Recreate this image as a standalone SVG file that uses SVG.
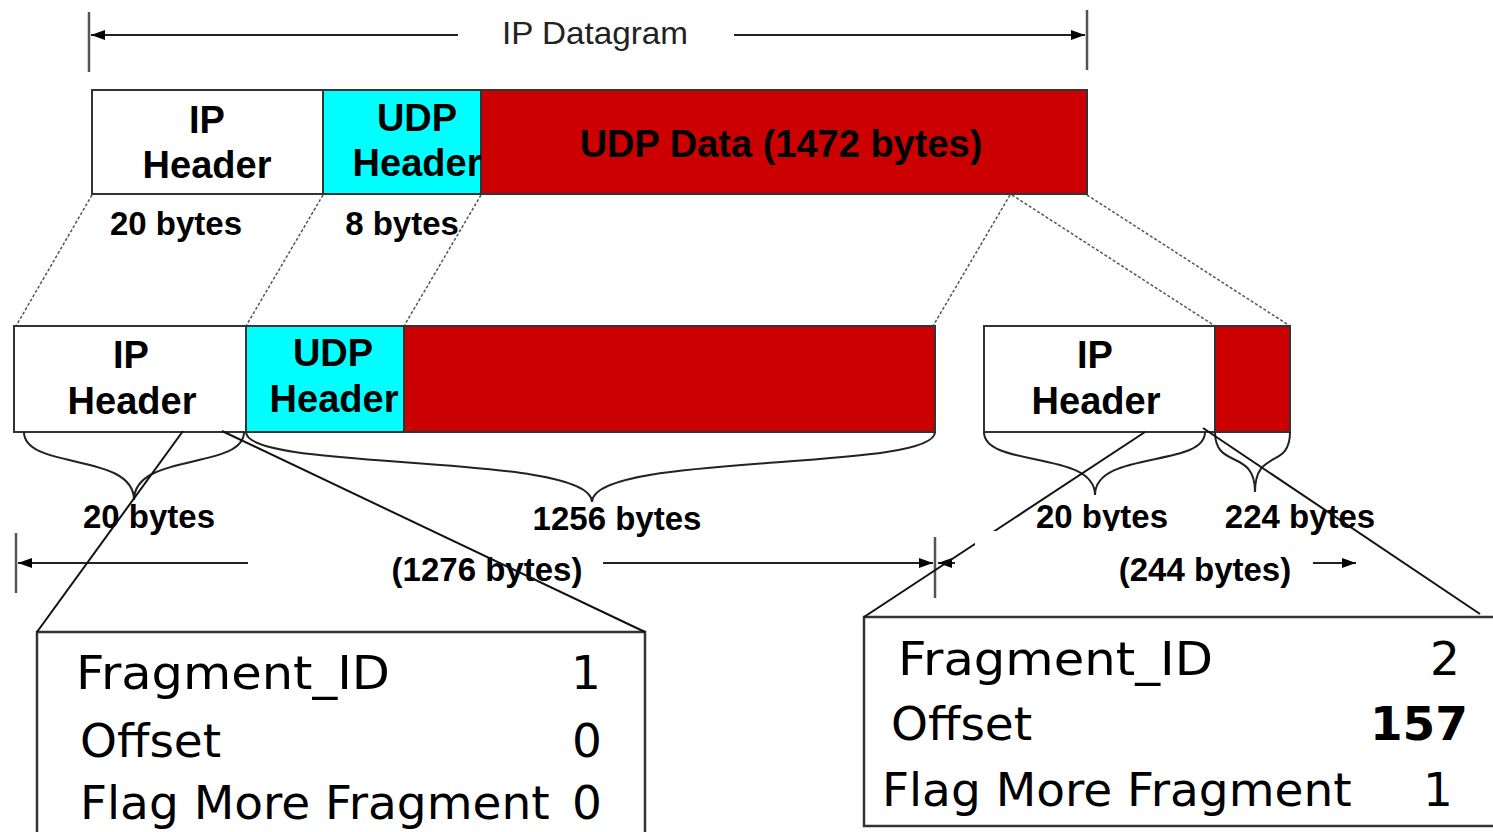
<svg xmlns="http://www.w3.org/2000/svg" width="1493" height="832" viewBox="0 0 1493 832">
  <style>
    .bar { stroke: #333; stroke-width: 2; }
    .ip { fill: #ffffff; }
    .udp { fill: #00ffff; }
    .data { fill: #cc0000; }
    .lbl { font-family: "Liberation Sans", Arial, sans-serif; font-weight: bold; fill: #000; text-anchor: middle; }
    .hdr { font-size: 38px; }
    .sz { font-size: 33px; }
    .dim { stroke: #222; stroke-width: 2; fill: none; }
    .tick { stroke: #555; stroke-width: 2.5; }
    .dot { stroke: #555; stroke-width: 1.5; stroke-dasharray: 3 2; fill: none; }
    .brace { stroke: #222; stroke-width: 2; fill: none; }
    .call { stroke: #111; stroke-width: 2; fill: none; }
    .box { fill: #fff; stroke: #333; stroke-width: 2.5; }
    .fld { font-family: "DejaVu Sans", Verdana, sans-serif; font-size: 47px; fill: #000; }
  </style>
  <defs>
    <marker id="arr" viewBox="0 0 14 10" refX="14" refY="5" markerWidth="14" markerHeight="10" markerUnits="userSpaceOnUse" orient="auto">
      <path d="M0,0 L14,5 L0,10 Z" fill="#000"/>
    </marker>
  </defs>

  <!-- overall datagram dimension -->
  <g id="datagram-dimension">
    <line class="tick" x1="89" y1="12" x2="89" y2="72"/>
    <line class="tick" x1="1087" y1="10" x2="1087" y2="70"/>
    <line class="dim" x1="458" y1="35" x2="91" y2="35" marker-end="url(#arr)"/>
    <line class="dim" x1="734" y1="35" x2="1085" y2="35" marker-end="url(#arr)"/>
    <text x="595" y="44" font-family="Liberation Sans, Arial, sans-serif" font-size="32" text-anchor="middle" textLength="186" lengthAdjust="spacingAndGlyphs" fill="#222">IP Datagram</text>
  </g>

  <!-- original datagram -->
  <g id="datagram">
    <rect class="bar ip" x="92" y="90" width="231" height="104"/>
    <rect class="bar udp" x="323" y="90" width="158" height="104"/>
    <rect class="bar data" x="481" y="90" width="606" height="104"/>
    <text class="lbl hdr" x="207" y="133">IP</text>
    <text class="lbl hdr" x="207" y="178">Header</text>
    <text class="lbl hdr" x="417" y="131">UDP</text>
    <text class="lbl hdr" x="417" y="176">Header</text>
    <text class="lbl hdr" x="781" y="157">UDP Data (1472 bytes)</text>
    <text class="lbl sz" x="176" y="235">20 bytes</text>
    <text class="lbl sz" x="402" y="235">8 bytes</text>
  </g>

  <!-- projection lines from the datagram to the fragments -->
  <g id="connectors">
    <line class="dot" x1="92" y1="195" x2="16" y2="326"/>
    <line class="dot" x1="323" y1="195" x2="246" y2="326"/>
    <line class="dot" x1="481" y1="195" x2="404" y2="326"/>
    <line class="dot" x1="1010" y1="195" x2="933" y2="326"/>
    <line class="dot" x1="1012" y1="195" x2="1215" y2="326"/>
    <line class="dot" x1="1087" y1="195" x2="1290" y2="326"/>
  </g>

  <!-- fragment 1 -->
  <g id="fragment-1">
    <rect class="bar ip" x="14" y="326" width="232" height="106"/>
    <rect class="bar udp" x="246" y="326" width="158" height="106"/>
    <rect class="bar data" x="404" y="326" width="531" height="106"/>
    <text class="lbl hdr" x="131" y="368">IP</text>
    <text class="lbl hdr" x="132" y="414">Header</text>
    <text class="lbl hdr" x="333" y="366">UDP</text>
    <text class="lbl hdr" x="334" y="412">Header</text>
    <path class="brace" d="M24,432 C24,470 134,452 134,500 C134,452 244,470 244,432"/>
    <path class="brace" d="M246,432 C246,472 592,452 592,502 C592,452 935,472 935,432"/>
    <text class="lbl sz" x="149" y="528">20 bytes</text>
    <text class="lbl sz" x="617" y="530">1256 bytes</text>
  </g>

  <!-- fragment 2 -->
  <g id="fragment-2">
    <rect class="bar ip" x="984" y="326" width="231" height="106"/>
    <rect class="bar data" x="1215" y="326" width="75" height="106"/>
    <text class="lbl hdr" x="1095" y="368">IP</text>
    <text class="lbl hdr" x="1096" y="414">Header</text>
    <path class="brace" d="M984,432 C984,468 1095,450 1095,495 C1095,450 1205,468 1205,432"/>
    <path class="brace" d="M1215,432 C1215,470 1255,448 1255,492 C1255,448 1290,470 1290,432"/>
    <text class="lbl sz" x="1102" y="528">20 bytes</text>
    <text class="lbl sz" x="1300" y="528">224 bytes</text>
  </g>

  <!-- fragment length dimensions -->
  <g id="fragment-dimensions">
    <line class="tick" x1="16" y1="533" x2="16" y2="593"/>
    <line class="dim" x1="248" y1="563" x2="18" y2="563" marker-end="url(#arr)"/>
    <line class="dim" x1="603" y1="563" x2="933" y2="563" marker-end="url(#arr)"/>
    <line class="tick" x1="935" y1="537" x2="935" y2="598"/>
    <line class="dim" x1="955" y1="563" x2="938" y2="563" marker-end="url(#arr)"/>
    <line class="dim" x1="1313" y1="563" x2="1356" y2="563" marker-end="url(#arr)"/>
    <text class="lbl sz" x="487" y="581">(1276 bytes)</text>
    <text class="lbl sz" x="1205" y="581">(244 bytes)</text>
  </g>

  <!-- header detail callouts -->
  <g id="callout-1">
    <rect class="box" x="37" y="632" width="608" height="215"/>
    <line class="call" x1="183" y1="431" x2="37" y2="632"/>
    <line class="call" x1="222" y1="431" x2="645" y2="632"/>
    <text class="fld" x="76" y="689" textLength="314" lengthAdjust="spacingAndGlyphs">Fragment_ID</text>
    <text class="fld" x="601" y="689" text-anchor="end">1</text>
    <text class="fld" x="80" y="757">Offset</text>
    <text class="fld" x="602" y="757" text-anchor="end">0</text>
    <text class="fld" x="80" y="819">Flag More Fragment</text>
    <text class="fld" x="602" y="819" text-anchor="end">0</text>
  </g>

  <g id="callout-2">
    <rect class="box" x="864" y="617" width="645" height="209"/>
    <line class="call" x1="1145" y1="432" x2="864" y2="617"/>
    <line class="call" x1="1203" y1="428" x2="1480" y2="614"/>
    <rect x="975" y="531" width="200" height="14" fill="#fff"/>
    <text class="fld" x="898" y="675" textLength="315" lengthAdjust="spacingAndGlyphs">Fragment_ID</text>
    <text class="fld" x="1460" y="675" text-anchor="end">2</text>
    <text class="fld" x="891" y="740">Offset</text>
    <text class="fld" x="1468" y="740" text-anchor="end" font-weight="bold">157</text>
    <text class="fld" x="882" y="806">Flag More Fragment</text>
    <text class="fld" x="1453" y="806" text-anchor="end">1</text>
  </g>
</svg>
